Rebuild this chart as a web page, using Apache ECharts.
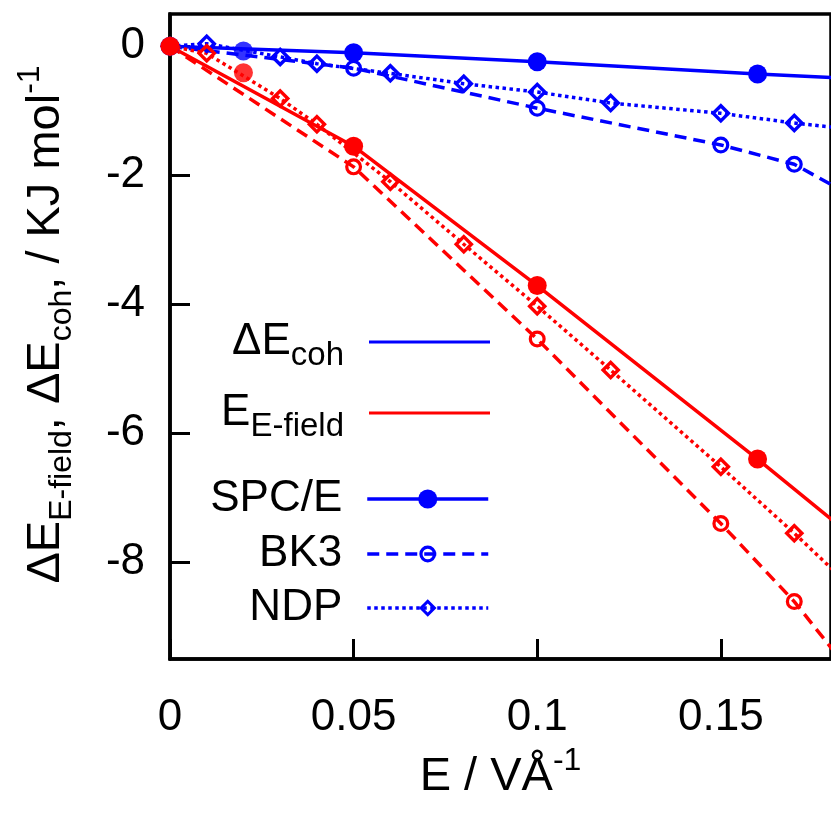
<!DOCTYPE html>
<html>
<head>
<meta charset="utf-8">
<script src="https://cdn.jsdelivr.net/npm/echarts@6/dist/echarts.min.js"></script>
<style>html,body{margin:0;background:#fff}#c{width:831px;height:814px}</style>
</head>
<body>
<div id="c"></div>
<script>
// Field strength E (V/Å) and energy changes (kJ/mol) per water model.
// Blue = ΔE_coh, red = E_E-field. Last point sits just past the visible range.
const eSpce = [0, 0.05, 0.1, 0.16, 0.2];
const spceCoh = [0, -0.10, -0.24, -0.43, -0.54];
const spceField = [0, -1.55, -3.71, -6.40, -8.26];

const eBk3 = [0, 0.05, 0.1, 0.15, 0.17, 0.2];
const bk3Coh = [0, -0.34, -0.96, -1.53, -1.83, -2.77];
const bk3Field = [0, -1.87, -4.54, -7.40, -8.61, -10.75];

const eNdp = [0, 0.01, 0.03, 0.04, 0.06, 0.08, 0.1, 0.12, 0.15, 0.17, 0.2];
const ndpCoh = [0, 0.04, -0.165, -0.27, -0.42, -0.58, -0.71, -0.88, -1.04, -1.19, -1.38];
const ndpField = [0, -0.11, -0.81, -1.21, -2.10, -3.07, -4.03, -5.02, -6.52, -7.55, -9.17];

// lone points at 0.02 that are not on any of the lines
const eExtra = [0.02];
const extraCoh = [-0.075];
const extraField = [-0.41];

const xTicks = [0, 0.05, 0.1, 0.15];
const yTicks = [-8, -6, -4, -2, 0];

const FONT = "'Liberation Sans', Arial, sans-serif";
const BLUE = '#0000ff', RED = '#ff0000';
const LW = 3.5;

// open markers as filled rings so the line shows through the middle
const RING = 'path://M0,-10A10,10 0 1,1 0,10A10,10 0 1,1 0,-10ZM0,-6.2A6.2,6.2 0 1,0 0,6.2A6.2,6.2 0 1,0 0,-6.2Z';
const DIAMOND = 'path://M0,-10L10,0L0,10L-10,0ZM0,-5.2L-5.2,0L0,5.2L5.2,0Z';

const MARK = {
  spce: { symbol: 'circle', size: 19, dash: 'solid' },
  bk3: { symbol: RING, size: 17, dash: [12, 7] },
  ndp: { symbol: DIAMOND, size: 20, dash: [3.5, 3.5] },
};

// legend text
const rich = {
  m: { fontFamily: FONT, fontSize: 44, lineHeight: 60, verticalAlign: 'middle', color: '#000' },
  s: { fontFamily: FONT, fontSize: 33, lineHeight: 29, verticalAlign: 'bottom', color: '#000' },
};
// axis titles, a little larger
const richT = {
  m: { fontFamily: FONT, fontSize: 47, lineHeight: 64, verticalAlign: 'middle', color: '#000' },
  s: { fontFamily: FONT, fontSize: 32, lineHeight: 29, verticalAlign: 'bottom', color: '#000' },
  p: { fontFamily: FONT, fontSize: 32, lineHeight: 29, verticalAlign: 'top', color: '#000' },
};

const LABELS = {
  coh: '{m|ΔE}{s|coh}',
  field: '{m|E}{s|E-field}',
  'SPC/E': '{m|SPC/E}',
  BK3: '{m|BK3}',
  NDP: '{m|NDP}',
};

const pts = (xs, ys) => xs.map((x, i) => [x, ys[i]]);

function lineSeries(name, xs, ys, color, kind) {
  const m = MARK[kind];
  return {
    name, type: 'line', data: pts(xs, ys),
    symbol: m.symbol, symbolSize: m.size, showSymbol: true,
    itemStyle: { color, borderWidth: 0 },
    lineStyle: { color, width: LW, type: m.dash, cap: 'butt' },
    emphasis: { disabled: true },
  };
}

function dotSeries(name, xs, ys, color) {
  return {
    name, type: 'scatter', data: pts(xs, ys),
    symbol: 'circle', symbolSize: 19,
    itemStyle: { color, borderWidth: 0 },
    emphasis: { disabled: true },
  };
}

// one legend per row so the uneven row spacing can be kept
function legendRow(name, rowY, itemHeight, icon) {
  return {
    data: [icon ? { name, icon } : { name }],
    orient: 'vertical', align: 'right', right: 341, top: rowY - 30, padding: 0,
    itemWidth: 121, itemHeight, selectedMode: false,
    lineStyle: { width: LW },
    formatter: (n) => LABELS[n],
    textStyle: { padding: [0, 20, 0, 0], rich },
  };
}

const chart = echarts.init(document.getElementById('c'), null, { renderer: 'canvas' });
chart.setOption({
  animation: false,
  backgroundColor: '#fff',
  grid: { left: 170, top: 14, width: 672, height: 645, show: true, borderColor: '#000', borderWidth: 3.5 },
  xAxis: {
    type: 'value', min: 0, max: 0.18,
    name: '{m|E / VÅ}{p|-1}', nameLocation: 'middle', nameGap: 84,
    nameTextStyle: { rich: richT },
    axisLine: { show: true, onZero: false, lineStyle: { color: '#000', width: 3.5 } },
    axisTick: { show: true, inside: true, length: 20, customValues: xTicks, lineStyle: { color: '#000', width: 3 } },
    axisLabel: { customValues: xTicks, margin: 37, fontFamily: FONT, fontSize: 44, color: '#000', formatter: (v) => String(v) },
    splitLine: { show: false },
  },
  yAxis: {
    type: 'value', min: -9.5, max: 0.5,
    name: '{m|ΔE}{s|E-field}{m|, ΔE}{s|coh}{m|, / KJ mol}{p|-1}',
    nameLocation: 'middle', nameRotate: 90, nameGap: 92,
    nameTextStyle: { rich: richT, padding: [0, 0, 0, 24] },
    axisLine: { show: true, onZero: false, lineStyle: { color: '#000', width: 3.5 } },
    axisTick: { show: true, inside: true, length: 20, customValues: yTicks, lineStyle: { color: '#000', width: 3 } },
    axisLabel: { customValues: yTicks, margin: 25, fontFamily: FONT, fontSize: 44, color: '#000', formatter: (v) => String(v) },
    splitLine: { show: false },
  },
  legend: [
    legendRow('coh', 350, 3, 'rect'),
    legendRow('field', 421, 3, 'rect'),
    legendRow('SPC/E', 507, 24),
    legendRow('BK3', 562, 21),
    legendRow('NDP', 616, 22),
  ],
  series: [
    { name: 'coh', type: 'line', data: [], color: BLUE, lineStyle: { color: BLUE, width: LW }, symbol: 'none' },
    { name: 'field', type: 'line', data: [], color: RED, lineStyle: { color: RED, width: LW }, symbol: 'none' },
    lineSeries('SPC/E', eSpce, spceCoh, BLUE, 'spce'),
    lineSeries('BK3', eBk3, bk3Coh, BLUE, 'bk3'),
    lineSeries('NDP', eNdp, ndpCoh, BLUE, 'ndp'),
    dotSeries('extra coh', eExtra, extraCoh, BLUE),
    lineSeries('BK3', eBk3, bk3Field, RED, 'bk3'),
    lineSeries('NDP', eNdp, ndpField, RED, 'ndp'),
    dotSeries('extra field', eExtra, extraField, RED),
    lineSeries('SPC/E', eSpce, spceField, RED, 'spce'),
  ],
});
</script>
</body>
</html>
